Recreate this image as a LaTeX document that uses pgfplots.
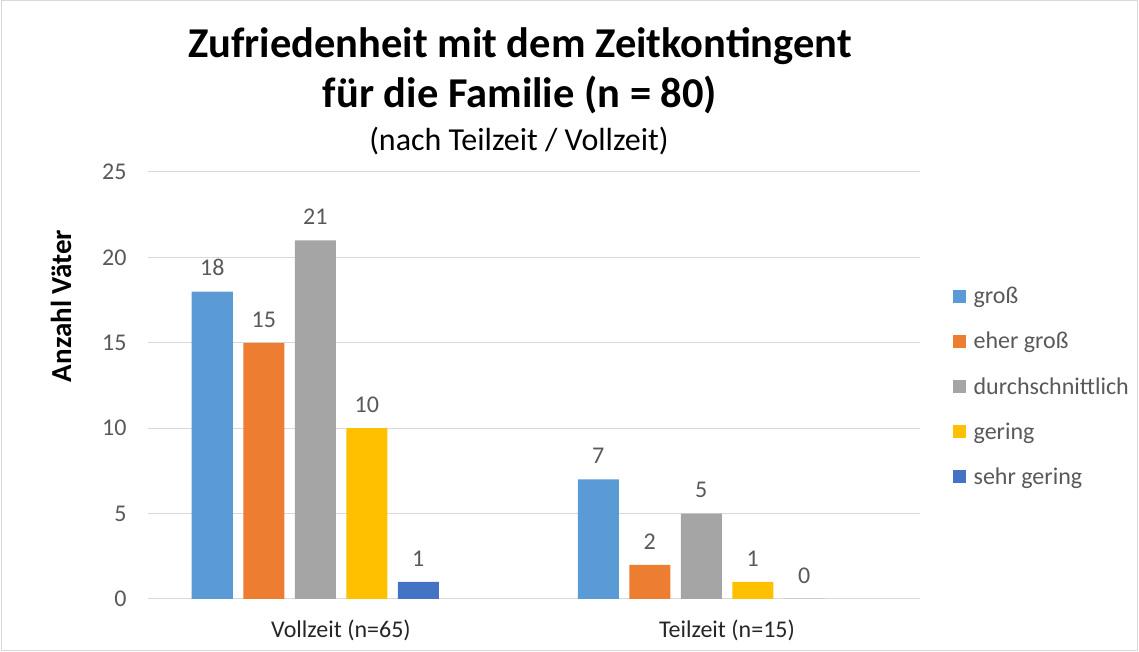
\documentclass[border=0pt]{standalone}
\usepackage{pgfplots}
\pgfplotsset{compat=1.18}
\usepackage{fontspec}
\setmainfont{Carlito}
\definecolor{c1}{HTML}{5B9BD5}
\definecolor{c2}{HTML}{ED7D31}
\definecolor{c3}{HTML}{A5A5A5}
\definecolor{c4}{HTML}{FFC000}
\definecolor{c5}{HTML}{4472C4}
\definecolor{gridc}{HTML}{D9D9D9}
\definecolor{txt}{HTML}{595959}
\begin{document}
\begin{tikzpicture}
\useasboundingbox (-148pt,-53pt) rectangle (991pt,599pt);
\draw[gridc,line width=1pt] (-146.5pt,-51.5pt) rectangle (989.5pt,598.5pt);
\begin{axis}[
  at={(0,0)}, anchor=south west,
  scale only axis, width=772pt, height=427pt,
  xmin=-0.5, xmax=1.5, ymin=0, ymax=25,
  ytick={0,5,10,15,20,25},
  xtick={0,1},
  xticklabels={Vollzeit (n=65), Teilzeit (n=15)},
  major tick length=0pt,
  ymajorgrids, grid style={gridc, line width=1pt},
  separate axis lines,
  axis x line*=bottom, axis y line*=left,
  x axis line style={draw=gridc, line width=1pt, -},
  y axis line style={draw=none},
  /pgf/number format/assume math mode=true,
  tick label style={font=\fontsize{24}{29}\selectfont, text=txt},
  xticklabel style={font=\fontsize{24}{29}\selectfont, text=black!85, yshift=-17pt},
  yticklabel style={xshift=-18pt},
  ybar, bar width=41pt,
  nodes near coords,
  every node near coord/.append style={font=\fontsize{24}{29}\selectfont, text=txt, yshift=12pt},
  legend style={draw=none, fill=none, at={(axis description cs:1.042,0.735)}, anchor=north west,
    font=\fontsize{24}{29}\selectfont, text=txt, row sep=23pt, inner sep=0pt},
  legend image code/.code={\fill[#1] (0pt,-6.5pt) rectangle (13pt,6.5pt); \path (19pt,0pt);},
  legend cell align=left,
]
\addplot[fill=c1, draw=none, bar shift=-128.75pt] coordinates {(0,18) (1,7)};
\addplot[fill=c2, draw=none, bar shift=-77.25pt] coordinates {(0,15) (1,2)};
\addplot[fill=c3, draw=none, bar shift=-25.75pt] coordinates {(0,21) (1,5)};
\addplot[fill=c4, draw=none, bar shift=25.75pt] coordinates {(0,10) (1,1)};
\addplot[fill=c5, draw=none, bar shift=77.25pt] coordinates {(0,1) (1,0)};
\legend{groß, eher groß, durchschnittlich, gering, sehr gering}
\end{axis}
\node[rotate=90, font=\fontsize{29}{33}\selectfont\bfseries] at (-87pt,293pt) {Anzahl Väter};
\node[anchor=base, font=\fontsize{42.5}{50}\selectfont\bfseries] at (372pt,541pt) {Zufriedenheit mit dem Zeitkontingent};
\node[anchor=base, font=\fontsize{42.5}{50}\selectfont\bfseries] at (372pt,491pt) {für die Familie (n = 80)};
\node[anchor=base, font=\fontsize{32}{38}\selectfont] at (371pt,448pt) {(nach Teilzeit / Vollzeit)};
\end{tikzpicture}
\end{document}
